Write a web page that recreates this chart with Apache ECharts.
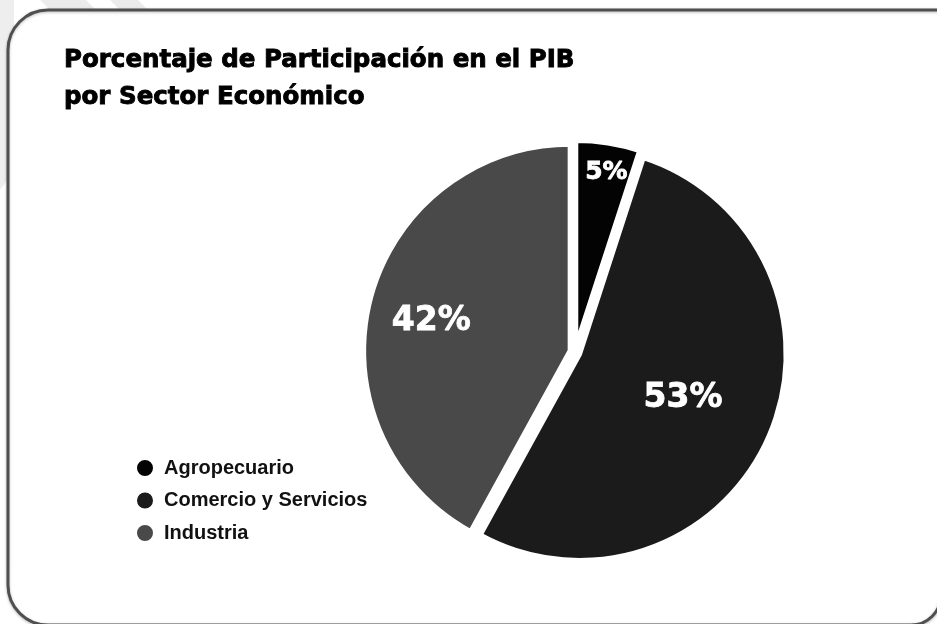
<!DOCTYPE html>
<html>
<head>
<meta charset="utf-8">
<script src="https://cdn.jsdelivr.net/npm/echarts@6/dist/echarts.min.js"></script>
<style>
html,body{margin:0;padding:0;background:#fff;}
#chart{width:937px;height:624px;}
</style>
</head>
<body>
<div id="chart"></div>
<script>
// ---- data ----
const titleLines = ['Porcentaje de Participación en el PIB', 'por Sector Económico'];
const categories = ['Agropecuario', 'Comercio y Servicios', 'Industria'];
const values = [5, 53, 42];

// ---- style ----
const sliceColors = ['#030303', '#1b1b1b', '#494949'];
const labelFontSizes = [25, 33, 33];
const labelShift = [[14, -70], [6, 2], [-36, -3]]; // nudge from default inside position
const pieRadius = 206.5;
const center = [575, 352];

const pieData = categories.map((name, i) => ({
  name: name,
  value: values[i],
  selected: true,
  itemStyle: { color: sliceColors[i] },
  label: { fontSize: labelFontSizes[i] }
}));

const chart = echarts.init(document.getElementById('chart'), null, { renderer: 'canvas' });
chart.setOption({
  backgroundColor: '#ffffff',
  animation: false,
  graphic: [
    { type: 'polygon', z: 0, silent: true, shape: { points: [[40, 0], [86, 0], [96, 10], [50, 10]] }, style: { fill: '#ebebeb' } },
    { type: 'polygon', z: 0, silent: true, shape: { points: [[110, 0], [138, 0], [148, 10], [120, 10]] }, style: { fill: '#ebebeb' } },
    { type: 'polygon', z: 0, silent: true, shape: { points: [[0, 0], [14, 0], [14, 170], [0, 190]] }, style: { fill: '#eeeeee' } },
    {
      type: 'rect', z: 1, silent: true,
      shape: { x: 8, y: 10, width: 933, height: 615, r: [40, 0, 30, 40] },
      style: { fill: '#ffffff', stroke: '#4f4f4f', lineWidth: 3, shadowBlur: 3, shadowColor: 'rgba(0,0,0,0.25)', shadowOffsetY: 1 }
    }
  ],
  title: {
    text: titleLines.join('\n'),
    left: 64,
    top: 42,
    padding: 0,
    textStyle: {
      fontFamily: 'DejaVu Sans',
      fontWeight: 'bold',
      fontSize: 24.5,
      lineHeight: 37,
      color: '#000000',
      textBorderColor: '#000000',
      textBorderWidth: 0.9
    }
  },
  legend: {
    orient: 'vertical',
    left: 135,
    top: 458,
    padding: 0,
    icon: 'circle',
    itemWidth: 18,
    itemHeight: 18,
    itemGap: 12.5,
    selectedMode: false,
    data: categories,
    textStyle: {
      fontFamily: 'Liberation Sans',
      fontWeight: 'bold',
      fontSize: 20,
      lineHeight: 20,
      color: '#111111',
      padding: [0, 0, 0, 5]
    }
  },
  series: [{
    type: 'pie',
    z: 5,
    center: center,
    radius: pieRadius,
    startAngle: 90,
    clockwise: true,
    selectedMode: 'multiple',
    selectedOffset: 5,
    avoidLabelOverlap: false,
    emphasis: { disabled: true },
    itemStyle: { borderColor: '#ffffff', borderWidth: 5 },
    select: { itemStyle: { borderColor: '#ffffff', borderWidth: 5 } },
    label: {
      show: true,
      position: 'inside',
      formatter: '{c}%',
      fontFamily: 'DejaVu Sans',
      fontWeight: 'bold',
      color: '#ffffff',
      textBorderColor: '#ffffff',
      textBorderWidth: 0.8
    },
    labelLayout: function (params) {
      const s = labelShift[params.dataIndex];
      return { dx: s[0], dy: s[1] };
    },
    labelLine: { show: false },
    data: pieData
  }]
});
</script>
</body>
</html>
